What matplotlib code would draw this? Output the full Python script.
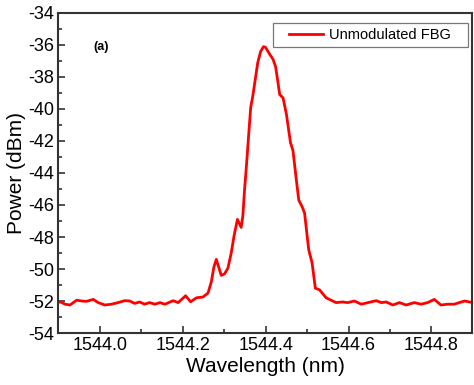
import matplotlib
matplotlib.use("Agg")
import matplotlib.pyplot as plt
from matplotlib.ticker import MultipleLocator
from matplotlib.patches import Rectangle

plt.rcParams['font.family'] = ['Liberation Sans', 'DejaVu Sans']

wavelength = [1543.899, 1543.904, 1543.916, 1543.928, 1543.944, 1543.956, 1543.968, 1543.984,
              1543.996, 1544.012, 1544.028, 1544.044, 1544.060, 1544.072, 1544.084, 1544.096,
              1544.108, 1544.120, 1544.133, 1544.145, 1544.157, 1544.177, 1544.189, 1544.207,
              1544.219, 1544.233, 1544.249, 1544.261, 1544.269, 1544.275, 1544.281, 1544.287,
              1544.293, 1544.301, 1544.309, 1544.317, 1544.324, 1544.332, 1544.341, 1544.345,
              1544.349, 1544.353, 1544.360, 1544.364, 1544.369, 1544.381, 1544.388, 1544.395,
              1544.400, 1544.408, 1544.418, 1544.424, 1544.429, 1544.434, 1544.442, 1544.450,
              1544.460, 1544.466, 1544.474, 1544.480, 1544.488, 1544.494, 1544.504, 1544.512,
              1544.520, 1544.530, 1544.546, 1544.554, 1544.570, 1544.586, 1544.598, 1544.614,
              1544.631, 1544.647, 1544.667, 1544.679, 1544.691, 1544.707, 1544.723, 1544.739,
              1544.759, 1544.775, 1544.791, 1544.807, 1544.823, 1544.839, 1544.855, 1544.880,
              1544.900]
power = [-52.1, -52.05, -52.2, -52.25, -51.95, -52.0, -52.02, -51.9,
         -52.1, -52.25, -52.2, -52.1, -51.98, -52.0, -52.15, -52.06,
         -52.2, -52.1, -52.2, -52.1, -52.2, -51.98, -52.1, -51.67,
         -52.05, -51.8, -51.75, -51.5, -50.8, -49.9, -49.4, -49.9,
         -50.4, -50.3, -49.95, -49.0, -47.9, -46.9, -47.4, -46.7,
         -45.1, -43.8, -41.3, -39.9, -39.2, -37.1, -36.4, -36.1,
         -36.15, -36.5, -36.9, -37.35, -38.2, -39.1, -39.3, -40.3,
         -42.1, -42.6, -44.4, -45.7, -46.1, -46.5, -48.8, -49.6,
         -51.2, -51.3, -51.8, -51.9, -52.1, -52.06, -52.1, -52.0,
         -52.2, -52.1, -51.98, -52.1, -52.06, -52.25, -52.1, -52.25,
         -52.1, -52.2, -52.1, -51.9, -52.25, -52.2, -52.2, -52.0,
         -52.1]

xticks = [1544.0, 1544.2, 1544.4, 1544.6, 1544.8]
yticks = list(range(-54, -33, 2))

W, H = 474, 385
fig = plt.figure(figsize=(W/100, H/100), dpi=100)
ax = fig.add_axes([58/W, 1 - 333/H, (472-58)/W, (333-13)/H])
ax.plot(wavelength, power, color='#ff0000', lw=2.0, solid_joinstyle='round',
        label='Unmodulated FBG')
ax.set_xlim(1543.899, 1544.898)
ax.set_ylim(-54, -34)
ax.set_xticks(xticks)
ax.set_xticklabels([f"{t:.1f}" for t in xticks])
ax.set_yticks(yticks)
ax.set_yticklabels([str(t) for t in yticks])
ax.xaxis.set_minor_locator(MultipleLocator(0.1))
ax.yaxis.set_minor_locator(MultipleLocator(1))
ax.tick_params(which='both', direction='in', top=False, right=False, labelsize=13,
               color='#333333', width=1.2, pad=3)
ax.tick_params(which='major', length=5)
ax.tick_params(which='minor', length=3)
for s in ax.spines.values():
    s.set_color('#333333')
    s.set_linewidth(1.5)
ax.set_xlabel('Wavelength (nm)', fontsize=15, labelpad=2)
ax.set_ylabel('Power (dBm)', fontsize=15, labelpad=1)
ax.text(1544.004, -36.15, '(a)', fontsize=9, fontweight='bold', ha='center', va='center')

# legend frame drawn as a plain rectangle, legend itself without frame
ax.add_patch(Rectangle((273/W, 1 - 47/H), (468-273)/W, 24/H,
                       transform=fig.transFigure, facecolor='white',
                       edgecolor='#777777', lw=0.9, zorder=4, clip_on=False))
leg = ax.legend(loc='center left', fontsize=10.5, frameon=False,
                borderpad=0, borderaxespad=0, handlelength=2.3, handletextpad=0.45,
                bbox_to_anchor=(289/W, 1 - 35/H), bbox_transform=fig.transFigure)
leg.set_zorder(6)
fig.savefig('out.png', dpi=100)
